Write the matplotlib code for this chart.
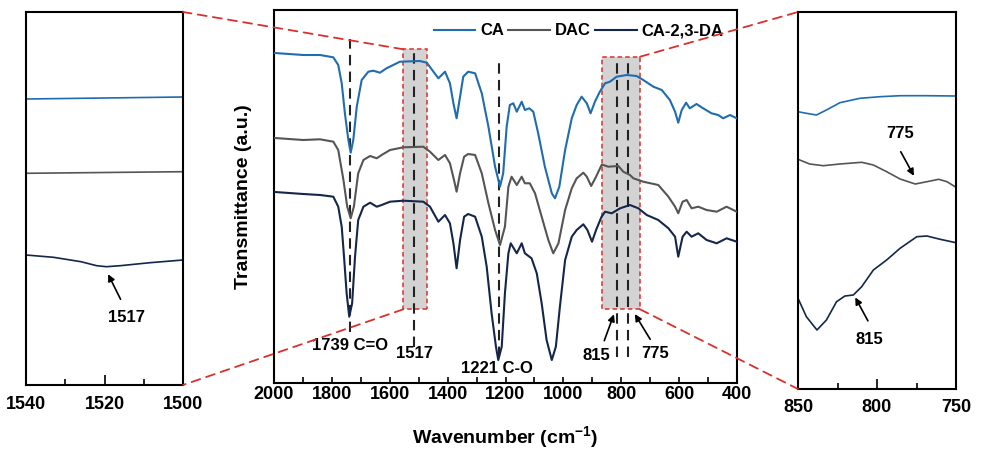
import matplotlib
matplotlib.use("Agg")
import matplotlib.pyplot as plt
from matplotlib.patches import Rectangle, ConnectionPatch
from matplotlib.ticker import MultipleLocator
from matplotlib.lines import Line2D

plt.rcParams['font.family'] = ['Liberation Sans', 'DejaVu Sans']
plt.rcParams['font.weight'] = 'bold'
plt.rcParams['mathtext.fontset'] = 'custom'
plt.rcParams['mathtext.rm'] = 'Liberation Sans:bold'
plt.rcParams['mathtext.default'] = 'rm'

# ---- main spectra (wavenumber, relative transmittance) ----
ca_x = [1997, 1899, 1841, 1795, 1778, 1766, 1755, 1743, 1735, 1726, 1714, 1697, 1674, 1657,
        1634, 1611, 1565, 1496, 1472, 1449, 1432, 1409, 1392, 1380, 1369, 1357, 1346, 1329,
        1305, 1282, 1259, 1236, 1219, 1208, 1196, 1185, 1173, 1161, 1144, 1133, 1118, 1104,
        1087, 1064, 1040, 1029, 1014, 994, 971, 954, 937, 919, 906, 891, 874, 856, 839, 816,
        781, 747, 724, 689, 660, 632, 614, 603, 591, 576, 563, 540, 517, 488, 465, 448, 424,
        401]
ca_y = [330, 328, 328, 325.7, 318, 299.7, 269.7, 243, 230.3, 243, 276.3, 303, 311.3, 312.3,
        310.3, 314.7, 321.3, 322, 320.3, 311.3, 304.7, 311.3, 299.7, 279.7, 264.7, 286.3, 306.3,
        311.3, 309.7, 289.7, 256.3, 216.3, 196.3, 209.7, 256.3, 278, 279.7, 271.3, 281.3, 273,
        274.7, 271.3, 249.7, 216.3, 189.7, 184.7, 196.3, 233, 264.7, 278, 286.3, 279.7, 269.7,
        281.3, 291.3, 299.7, 301.3, 306.3, 308, 307, 303, 296.3, 293, 283, 271.3, 260.3, 273,
        280.3, 274.7, 279, 274.7, 269.7, 268, 264.7, 268, 264.7]

dac_x = [1997, 1899, 1841, 1795, 1778, 1760, 1747, 1735, 1724, 1709, 1691, 1668, 1645, 1628,
         1599, 1553, 1484, 1461, 1432, 1409, 1392, 1378, 1369, 1357, 1343, 1329, 1305, 1282,
         1259, 1236, 1219, 1202, 1190, 1179, 1161, 1144, 1133, 1116, 1098, 1075, 1052, 1035,
         1017, 994, 971, 954, 931, 919, 904, 887, 868, 862, 845, 810, 793, 770, 758, 724, 672,
         637, 614, 603, 588, 574, 557, 534, 505, 470, 436, 401]
dac_y = [245, 243, 243.7, 241.3, 233, 203, 176.3, 164.7, 176.3, 209.7, 223, 227, 224.7, 228,
         233, 235.7, 236.3, 231.3, 223, 228, 219.7, 203, 191.3, 209.7, 226.3, 229, 228, 209.7,
         179.7, 153, 138, 156.3, 196.3, 206.3, 198, 206.3, 199.7, 199.7, 189.7, 166.3, 143,
         129.7, 139.7, 173, 194.7, 204.7, 210.3, 206.3, 197, 206.3, 218, 218, 216.3, 217,
         211.3, 208, 204.7, 201.3, 198, 186.3, 176.3, 169.7, 181.3, 183, 174.7, 176.3, 173,
         171.3, 176.3, 171.3]

da_x = [1997, 1899, 1841, 1795, 1778, 1766, 1758, 1749, 1740, 1730, 1720, 1709, 1691, 1668,
        1645, 1628, 1599, 1553, 1484, 1461, 1432, 1409, 1392, 1380, 1369, 1357, 1343, 1329,
        1305, 1282, 1265, 1248, 1233, 1225, 1213, 1202, 1190, 1182, 1161, 1144, 1133, 1110,
        1092, 1075, 1058, 1040, 1026, 1012, 994, 971, 954, 931, 917, 901, 887, 868, 856, 833,
        804, 770, 741, 712, 672, 637, 614, 603, 588, 574, 557, 534, 505, 470, 436, 401]
da_y = [191, 189, 188, 186.3, 176.3, 156.3, 126.3, 89.7, 66.3, 79.7, 126.3, 163, 176.3, 180.3,
        176.3, 178, 181.3, 182.3, 181.3, 176.3, 161.3, 168, 159.7, 139.7, 114.7, 143, 166.3,
        169, 166.3, 146.3, 116.3, 69.7, 36.3, 23, 36.3, 89.7, 129.7, 139.7, 129.7, 139.7,
        129.7, 124.7, 109.7, 79.7, 43, 23, 36.3, 76.3, 123, 146.3, 153, 158.7, 153, 141.3,
        153, 166.3, 171.3, 169.7, 174.7, 178, 174.7, 168, 163, 154.7, 146.3, 126.3, 146.3,
        151.3, 146.3, 149.7, 143, 139.7, 144.7, 141.3]

# ---- zoom 1540-1500 ----
l_ca_x = [1540, 1520, 1500]
l_ca_y = [286, 287, 288]
l_dac_x = [1540, 1520, 1500]
l_dac_y = [211.7, 212.5, 213.3]
l_da_x = [1540, 1533, 1526, 1522, 1519.5, 1516, 1508.4, 1500]
l_da_y = [130, 127.7, 123.3, 119.3, 118.3, 119.3, 122.3, 125]

# ---- zoom 850-750 ----
r_ca_x = [850, 844.7, 838.3, 832, 823.5, 810.8, 798, 785.4, 768.4, 750]
r_ca_y = [277.3, 275.7, 274, 279, 286.3, 290.7, 292.3, 293.3, 293.3, 293]
r_dac_x = [850, 842.6, 834, 823.5, 809.7, 802.3, 793.9, 785.4, 775.8, 768.4, 761, 755.7, 750]
r_dac_y = [229.7, 225, 223.3, 225, 226.7, 224, 217.3, 210, 205, 207.3, 209.7, 207.3, 201.7]
r_da_x = [850, 844.7, 838, 832, 825.6, 820.3, 815, 809.7, 802.3, 793.9, 785.4, 774.8,
          768.4, 760, 750]
r_da_y = [90.7, 72.3, 59, 69, 87.3, 93, 94, 102.3, 119, 129, 140.7, 152.3, 153, 149.7, 146.3]

names = ['CA', 'DAC', 'CA-2,3-DA']
colors = ['#1f6cb0', '#555555', '#14264a']

fig = plt.figure(figsize=(9.84, 4.53), dpi=100)
ax = fig.add_axes([274/984, 1-383/453, 463/984, 373/453])
axL = fig.add_axes([26/984, 1-385/453, 157/984, 373/453])
axR = fig.add_axes([798/984, 1-389/453, 158/984, 377/453])

# main panel
for (xs, ys), c in zip([(ca_x, ca_y), (dac_x, dac_y), (da_x, da_y)], colors):
    ax.plot(xs, ys, color=c, lw=1.5, zorder=3, solid_joinstyle='round')

ax.set_xlim(2000, 400)
ax.set_ylim(0, 373)
ax.xaxis.set_major_locator(MultipleLocator(200))
ax.xaxis.set_minor_locator(MultipleLocator(100))
ax.tick_params(axis='x', which='both', direction='in', length=4, width=1.2,
               labelsize=13, pad=2)
ax.set_yticks([])
for s in ax.spines.values():
    s.set_linewidth(1.5)
ax.set_xlabel('Wavenumber (cm$^{-1}$)', fontsize=14, fontweight='bold', labelpad=15)
ax.set_ylabel('Transmittance (a.u.)', fontsize=14, fontweight='bold', labelpad=16)

# highlight boxes
box1 = (1553, 1473, 73.7, 333.7)
box2 = (868, 735, 73.7, 326.3)
for x0, x1, y0, y1 in [box1, box2]:
    ax.add_patch(Rectangle((x1, y0), x0 - x1, y1 - y0, facecolor='#d3d3d3',
                           edgecolor='#d9302c', lw=1.1, ls=(0, (3, 2)), zorder=1))

# dashed guide lines
guides = [(1739, 51.3, 343.7), (1517, 36.3, 333), (1221, 26.3, 321.3),
          (815, 26.3, 319.7), (775, 26.3, 319.7)]
for gx, y0, y1 in guides:
    ax.plot([gx, gx], [y0, y1], color='#222222', lw=1.5, dashes=(5, 3), zorder=2)

ax.text(1737, 37.3, '1739 C=O', fontsize=12, fontweight='bold', ha='center', va='center')
ax.text(1513, 29, '1517', fontsize=12, fontweight='bold', ha='center', va='center')
ax.text(1230, 14.7, '1221 C-O', fontsize=12, fontweight='bold', ha='center', va='center')
ax.text(885, 28, '815', fontsize=12, fontweight='bold', ha='center', va='center')
ax.text(683, 29, '775', fontsize=12, fontweight='bold', ha='center', va='center')
arrow = dict(arrowstyle='-|>', color='k', lw=1.2, mutation_scale=10)
ax.annotate('', xy=(822, 71.3), xytext=(862, 39.7), arrowprops=arrow)
ax.annotate('', xy=(758, 71.3), xytext=(695, 41.3), arrowprops=arrow)

handles = [Line2D([], [], color=c, lw=1.5) for c in colors]
ax.legend(handles, names, ncol=3, loc='upper right', bbox_to_anchor=(1.0, 1.0),
          frameon=False, handlelength=2.5, handletextpad=0.3,
          columnspacing=0.25, borderaxespad=0.6, borderpad=0.2,
          prop={'weight': 'bold', 'size': 12})

# left zoom panel
axL.plot(l_ca_x, l_ca_y, color=colors[0], lw=1.2)
axL.plot(l_dac_x, l_dac_y, color=colors[1], lw=1.2)
axL.plot(l_da_x, l_da_y, color=colors[2], lw=1.2)
axL.set_xlim(1540, 1500)
axL.set_ylim(0, 373)
axL.set_xticks([1540, 1520, 1500])
axL.xaxis.set_minor_locator(MultipleLocator(10))
axL.tick_params(axis='x', which='major', direction='in', length=7, width=1.2,
                labelsize=13, pad=8)
axL.tick_params(axis='x', which='minor', direction='in', length=4, width=1.2)
axL.set_yticks([])
axL.text(1514.5, 67.7, '1517', fontsize=12, fontweight='bold', ha='center', va='center')
axL.annotate('', xy=(1519.4, 113.3), xytext=(1515.6, 83.3), arrowprops=arrow)

# right zoom panel
axR.plot(r_ca_x, r_ca_y, color=colors[0], lw=1.2)
axR.plot(r_dac_x, r_dac_y, color=colors[1], lw=1.2)
axR.plot(r_da_x, r_da_y, color=colors[2], lw=1.2)
axR.set_xlim(850, 750)
axR.set_ylim(0, 377)
axR.set_xticks([850, 800, 750])
axR.xaxis.set_minor_locator(MultipleLocator(25))
axR.tick_params(axis='x', which='major', direction='in', length=7, width=1.2,
                labelsize=13, pad=7)
axR.tick_params(axis='x', which='minor', direction='in', length=4, width=1.2)
axR.set_yticks([])
axR.text(785.4, 255, '775', fontsize=12, fontweight='bold', ha='center', va='center')
axR.annotate('', xy=(775.8, 210.7), xytext=(785.8, 239.7), arrowprops=arrow)
axR.text(804.9, 49, '815', fontsize=12, fontweight='bold', ha='center', va='center')
axR.annotate('', xy=(814.6, 94), xytext=(804.9, 65.7), arrowprops=arrow)

for a in (axL, axR):
    for s in a.spines.values():
        s.set_linewidth(1.5)

# connector lines
red = '#d9302c'
conns = [((box1[0], box1[3]), axL, (1, 1)), ((box1[0], box1[2]), axL, (1, 0)),
         ((box2[1], box2[3]), axR, (0, 1)), ((box2[1], box2[2]), axR, (0, 0))]
for pA, axB, pB in conns:
    cp = ConnectionPatch(xyA=pA, coordsA=ax.transData, xyB=pB, coordsB=axB.transAxes,
                         color=red, lw=1.3, ls=(0, (5, 3.5)))
    fig.add_artist(cp)

fig.savefig('out.png', dpi=100)
